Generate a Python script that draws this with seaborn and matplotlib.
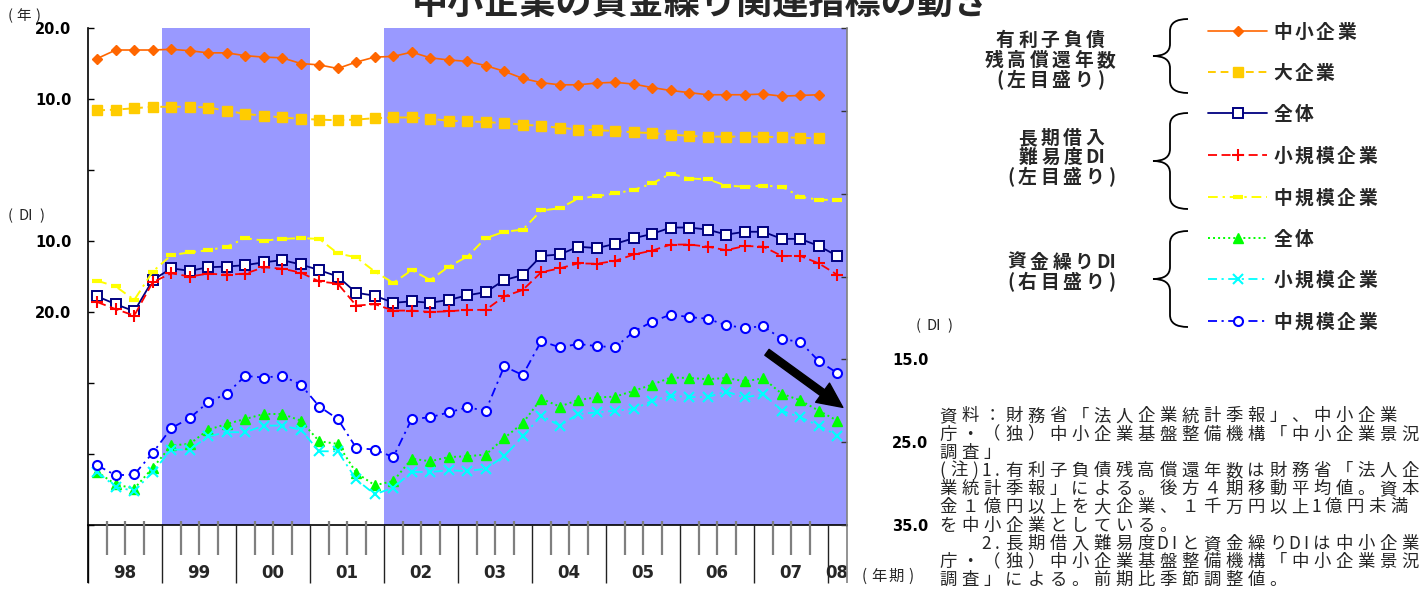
import numpy as np
import matplotlib
matplotlib.use("Agg")
import matplotlib.pyplot as plt
from matplotlib.path import Path
from matplotlib.patches import PathPatch
import seaborn as sns

# ---------------- data (quarterly, 1998 Q1 onward) ----------------
year_labels = ["98", "99", "00", "01", "02", "03", "04", "05", "06", "07", "08"]
n_quarters = 41

# years needed to repay interest-bearing debt (left scale, years)
debt_years_sme = [15.7, 16.9, 16.9, 16.9, 17.0, 16.8, 16.5, 16.5, 16.1, 15.9,
                  15.8, 15.0, 14.8, 14.3, 15.2, 15.9, 16.0, 16.6, 15.8, 15.5,
                  15.3, 14.7, 13.9, 12.9, 12.3, 12.0, 12.0, 12.25, 12.35, 12.1,
                  11.6, 11.2, 10.9, 10.6, 10.6, 10.6, 10.7, 10.4, 10.5, 10.6]
debt_years_large = [8.4, 8.5, 8.7, 8.9, 8.9, 8.9, 8.8, 8.35, 7.9, 7.65,
                    7.4, 7.2, 7.1, 7.0, 7.1, 7.3, 7.4, 7.4, 7.2, 6.95,
                    6.85, 6.75, 6.6, 6.4, 6.2, 5.95, 5.7, 5.6, 5.5, 5.3,
                    5.2, 5.0, 4.8, 4.7, 4.7, 4.7, 4.7, 4.6, 4.55, 4.45]

# long-term borrowing ease DI (left scale, lower half)
borrow_di_all = [-17.8, -18.9, -19.9, -15.5, -13.85, -14.2, -13.7, -13.6, -13.4, -13.0,
                 -12.7, -13.3, -14.1, -15.0, -17.3, -17.7, -18.7, -18.5, -18.7, -18.3,
                 -17.65, -17.2, -15.5, -14.8, -12.1, -11.9, -10.8, -11.0, -10.4, -9.6,
                 -9.0, -8.1, -8.1, -8.4, -9.1, -8.7, -8.7, -9.7, -9.7, -10.7, -12.1]
borrow_di_small = [-18.6, -19.6, -20.5, -15.8, -14.55, -15.0, -14.6, -14.75, -14.6, -13.7,
                   -13.9, -14.45, -15.7, -16.0, -19.1, -18.9, -19.8, -19.8, -20.0, -19.9,
                   -19.7, -19.7, -17.8, -16.9, -14.4, -13.85, -13.15, -13.2, -12.8, -11.9,
                   -11.35, -10.5, -10.5, -10.8, -11.3, -10.7, -10.8, -12.1, -12.1, -13.15, -14.75]
borrow_di_medium = [-15.6, -16.4, -18.3, -14.3, -12.0, -11.6, -11.3, -10.8, -9.6, -9.95,
                    -9.7, -9.6, -9.7, -11.75, -12.3, -14.3, -15.9, -14.1, -15.5, -13.6,
                    -12.2, -9.6, -8.7, -8.4, -5.7, -5.4, -4.0, -3.7, -3.3, -2.8,
                    -1.9, -0.5, -1.2, -1.3, -2.2, -2.35, -2.2, -2.35, -3.75, -4.2, -4.2]

# cash-flow DI (right scale)
cash_di_all = [-28.6, -30.1, -30.6, -28.1, -25.4, -25.2, -23.5, -22.8, -22.2, -21.6,
               -21.6, -22.4, -24.9, -25.2, -28.7, -30.2, -29.7, -27.0, -27.3, -26.8,
               -26.7, -26.5, -24.5, -22.7, -19.75, -20.7, -19.9, -19.6, -19.5, -18.8,
               -18.05, -17.2, -17.25, -17.4, -17.25, -17.65, -17.3, -19.15, -19.95, -21.2, -22.4]
cash_di_small = [-28.6, -30.4, -30.9, -28.6, -25.9, -25.9, -24.3, -23.8, -23.8, -23.0,
                 -23.0, -23.5, -26.1, -26.1, -29.5, -31.3, -30.5, -28.6, -28.6, -28.4,
                 -28.5, -28.2, -26.7, -24.3, -21.8, -23.0, -21.6, -21.4, -21.2, -21.0,
                 -20.0, -19.4, -19.55, -19.55, -18.9, -19.6, -19.2, -21.2, -22.0, -23.0, -24.2]
cash_di_medium = [-27.8, -29.0, -28.9, -26.3, -23.3, -22.1, -20.15, -19.15, -17.0, -17.2,
                  -17.0, -18.05, -20.7, -22.2, -25.7, -25.9, -26.8, -22.2, -22.0, -21.4,
                  -20.8, -21.2, -15.85, -16.9, -12.8, -13.55, -13.15, -13.4, -13.55, -11.65,
                  -10.45, -9.6, -9.9, -10.1, -10.9, -11.2, -11.0, -12.55, -12.9, -15.2, -16.65]

left_ticks = [-50, -40, -30, -20, -10, 0, 10, 20]
left_tick_labels = ["", "", "", "20.0", "10.0", "", "10.0", "20.0"]
right_ticks = [-35, -25, -15, -5, 5, 15, 25]
right_tick_labels = ["35.0", "25.0", "15.0", "", "", "", ""]

# shaded periods as (first quarter, end quarter) indices
shaded_periods = [(4, 12), (16, 41)]

title = "中小企業の資金繰り関連指標の動き"
notes = [
    "資料：財務省「法人企業統計季報」、中小企業",
    "庁・（独）中小企業基盤整備機構「中小企業景況",
    "調査」",
    "(注)1.有利子負債残高償還年数は財務省「法人企",
    "業統計季報」による。後方４期移動平均値。資本",
    "金１億円以上を大企業、１千万円以上1億円未満",
    "を中小企業としている。",
    "\u3000\u30002.長期借入難易度DIと資金繰りDIは中小企業",
    "庁・（独）中小企業基盤整備機構「中小企業景況",
    "調査」による。前期比季節調整値。",
]

# ---------------- styles ----------------
ORANGE, GOLD, NAVY, RED = "#FF6600", "#FFCC00", "#000080", "#FF0000"
YELLOW, GREEN, CYAN, BLUE = "#FFFF00", "#00FF00", "#00FFFF", "#0000FF"
SHADE = "#9999FF"

style_sme = dict(color=ORANGE, marker="D", markersize=5.5, linestyle="-",
                 markerfacecolor=ORANGE, markeredgecolor=ORANGE, markeredgewidth=1, linewidth=1.2)
style_large = dict(color=GOLD, marker="s", markersize=7, linestyle=(0, (4, 2.5)),
                   markerfacecolor=GOLD, markeredgecolor=GOLD, markeredgewidth=1, linewidth=1.4)
style_b_all = dict(color=NAVY, marker="s", markersize=6.5, linestyle="-",
                   markerfacecolor="white", markeredgecolor=NAVY, markeredgewidth=1.4, linewidth=1.3)
style_b_small = dict(color=RED, marker="+", markersize=8, linestyle=(0, (5, 2.5)),
                     markerfacecolor=RED, markeredgecolor=RED, markeredgewidth=1.5, linewidth=1.3)
style_b_mid = dict(color=YELLOW, marker="_", markersize=7, linestyle=(0, (5, 2.5, 1.2, 2.5)),
                   markerfacecolor=YELLOW, markeredgecolor=YELLOW, markeredgewidth=3, linewidth=1.4)
style_c_all = dict(color=GREEN, marker="^", markersize=7.5, linestyle=(0, (1, 1.6)),
                   markerfacecolor=GREEN, markeredgecolor=GREEN, markeredgewidth=1, linewidth=1.4)
style_c_small = dict(color=CYAN, marker="x", markersize=7, linestyle=(0, (5, 2.5, 1.2, 2.5)),
                     markerfacecolor=CYAN, markeredgecolor=CYAN, markeredgewidth=1.5, linewidth=1.3)
style_c_mid = dict(color=BLUE, marker="o", markersize=6.5, linestyle=(0, (5, 2.5, 1.2, 2.5)),
                   markerfacecolor="white", markeredgecolor=BLUE, markeredgewidth=1.5, linewidth=1.3)

sns.set_style("white")
plt.rcParams["font.family"] = ["Noto Sans CJK JP", "DejaVu Sans"]

W, H = 1422, 590
fig = plt.figure(figsize=(W / 100, H / 100), dpi=100)
ax = fig.add_axes([88 / W, 65 / H, 758.5 / W, 497 / H])
ax.set_xlim(0, n_quarters)
ax.set_ylim(-50, 20)

for start, end in shaded_periods:
    ax.axvspan(start, end, color=SHADE, lw=0, zorder=0)


def draw_series(axis, values, style):
    xs = np.arange(len(values)) + 0.5
    sns.lineplot(x=xs, y=values, ax=axis, errorbar=None, zorder=3, **style)


draw_series(ax, debt_years_sme, style_sme)
draw_series(ax, debt_years_large, style_large)
draw_series(ax, borrow_di_all, style_b_all)
draw_series(ax, borrow_di_small, style_b_small)
draw_series(ax, borrow_di_medium, style_b_mid)

ax2 = ax.twinx()
ax2.set_ylim(-35, 25)
draw_series(ax2, cash_di_all, style_c_all)
draw_series(ax2, cash_di_small, style_c_small)
draw_series(ax2, cash_di_medium, style_c_mid)
ax2.set_xlim(0, n_quarters)

# axes styling
num_font = dict(fontfamily="DejaVu Sans", fontweight="bold", fontsize=10.5)
ax.set_xticks([])
ax.set_yticks(left_ticks)
ax.set_yticklabels(left_tick_labels, **num_font)
ax.tick_params(axis="y", direction="in", length=4, width=1, pad=12, left=True, right=False, colors="black")
ax2.set_yticks(right_ticks)
ax2.set_yticklabels(right_tick_labels, **num_font)
ax2.tick_params(axis="y", direction="in", length=4.5, width=1, pad=33, right=True, left=False,
                color="#333333", labelcolor="black")
for a in (ax, ax2):
    a.set_xlabel("")
    a.set_ylabel("")
    a.spines["top"].set_visible(False)
ax.spines["right"].set_visible(False)
ax.spines["left"].set_color("black")
ax.spines["bottom"].set_color("black")
ax.spines["left"].set_linewidth(1.2)
ax.spines["bottom"].set_linewidth(1.2)
for s in ("left", "bottom"):
    ax2.spines[s].set_visible(False)
ax2.spines["right"].set_color("#808080")
ax2.spines["right"].set_linewidth(1.2)

# quarter ticks and year dividers below the plot
xt = ax.get_xaxis_transform()
for j in range(1, n_quarters):
    if j % 4:
        ax.vlines(j, -30 / 497, 4 / 497, transform=xt, color="#7f7f7f", lw=1.6, clip_on=False, zorder=4)
for j in range(0, n_quarters, 4):
    ax.vlines(j, -58 / 497, 0, transform=xt, color="#222222", lw=1.0, clip_on=False, zorder=4)
ax.vlines(n_quarters, -58 / 497, 0, transform=xt, color="#808080", lw=1.2, clip_on=False, zorder=4)
ax.vlines(0, -58 / 497, 0, transform=xt, color="black", lw=1.2, clip_on=False, zorder=4)

year_centres = [4 * i + 2 for i in range(len(year_labels) - 1)] + [n_quarters - 0.5]
for xc, lab in zip(year_centres, year_labels):
    ax.text(xc, -48 / 497, lab, transform=xt, ha="center", va="center",
            fontfamily="DejaVu Sans", fontweight="bold", fontsize=12)

# decline arrow at the latest quarters
ax2.annotate("", xy=(40.8, -20.8), xytext=(36.7, -14.15),
             arrowprops=dict(arrowstyle="simple,head_length=0.9,head_width=0.85,tail_width=0.26",
                             color="black", shrinkA=0, shrinkB=0, mutation_scale=20),
             zorder=6)

# ---------------- overlay for title, legend and notes (pixel units) ----------------
ov = fig.add_axes([0, 0, 1, 1], zorder=10)
ov.set_xlim(0, W)
ov.set_ylim(H, 0)
ov.axis("off")


def spaced(x, y, s, size, full, half, weight="normal", align="left"):
    """Draw a string one cell per token; y is the visual centre line.
    s may be a string (one token per character) or a list of tokens."""
    tokens = list(s)
    advs = []
    for t in tokens:
        if len(t) > 1:
            advs.append(half * len(t))
        else:
            advs.append(half if ord(t) < 0x2000 else full)
    x0 = x - sum(advs) / 2 if align == "center" else x
    base = y + 0.37 * size * 100 / 72
    for t, a in zip(tokens, advs):
        if t not in (" ", "\u3000"):
            ov.text(x0 + a / 2, base, t, fontsize=size, fontweight=weight, ha="center", va="baseline")
        x0 += a


ov.text(701, 14.5, title, fontsize=26, fontweight="bold", ha="center", va="baseline")

spaced(5, 15, "(年)", 10.5, 16, 11)
spaced(5, 215, ["(", "DI", ")"], 10.5, 16, 10.5)
spaced(913, 325, ["(", "DI", ")"], 10.5, 16, 10.5)
spaced(858, 575, "(年期)", 11, 17, 12.5)


def brace(y_top, y_tip, y_bot, x_tip=1153, x_body=1170, x_end=1188, r=12):
    verts = [(x_end, y_top), (x_body, y_top), (x_body, y_top + r),
             (x_body, y_tip - r), (x_body, y_tip), (x_tip, y_tip),
             (x_body, y_tip), (x_body, y_tip + r),
             (x_body, y_bot - r), (x_body, y_bot), (x_end, y_bot)]
    codes = [Path.MOVETO, Path.CURVE3, Path.CURVE3, Path.LINETO, Path.CURVE3, Path.CURVE3,
             Path.CURVE3, Path.CURVE3, Path.LINETO, Path.CURVE3, Path.CURVE3]
    ov.add_patch(PathPatch(Path(verts, codes), fill=False, lw=1.3, edgecolor="black"))


groups = [
    ([list("有利子負債"), list("残高償還年数"), list("(左目盛り)")], [39, 59, 79], 1050, (19, 56, 93)),
    ([list("長期借入"), list("難易度") + ["DI"], list("(左目盛り)")], [137, 156, 176], 1061, (113, 161, 209)),
    ([list("資金繰り") + ["DI"], list("(右目盛り)")], [261, 281], 1061, (231, 279, 327)),
]
for lines, ys, xc, br in groups:
    for s, yy in zip(lines, ys):
        spaced(xc, yy, s, 13.5, 22.5, 10.5, weight="bold", align="center")
    brace(*br)

legend_rows = [
    ("中小企業", style_sme, 31),
    ("大企業", style_large, 72),
    ("全体", style_b_all, 113),
    ("小規模企業", style_b_small, 155),
    ("中規模企業", style_b_mid, 197),
    ("全体", style_c_all, 238),
    ("小規模企業", style_c_small, 279),
    ("中規模企業", style_c_mid, 321),
]
for label, st, yy in legend_rows:
    line_kw = {k: v for k, v in st.items() if k not in ("marker", "markersize", "markerfacecolor",
                                                       "markeredgecolor", "markeredgewidth")}
    ov.plot([1208, 1267], [yy, yy], **line_kw)
    ov.plot([1237.5], [yy], linestyle="none", marker=st["marker"], markersize=st["markersize"],
            markerfacecolor=st["markerfacecolor"], markeredgecolor=st["markeredgecolor"],
            markeredgewidth=st["markeredgewidth"])
    spaced(1272, yy, label, 13.5, 21.3, 10.5, weight="bold")

for i, line in enumerate(notes):
    spaced(937, 415 + 18.2 * i, line, 12.5, 22, 11)

fig.savefig("out.png", dpi=100)
